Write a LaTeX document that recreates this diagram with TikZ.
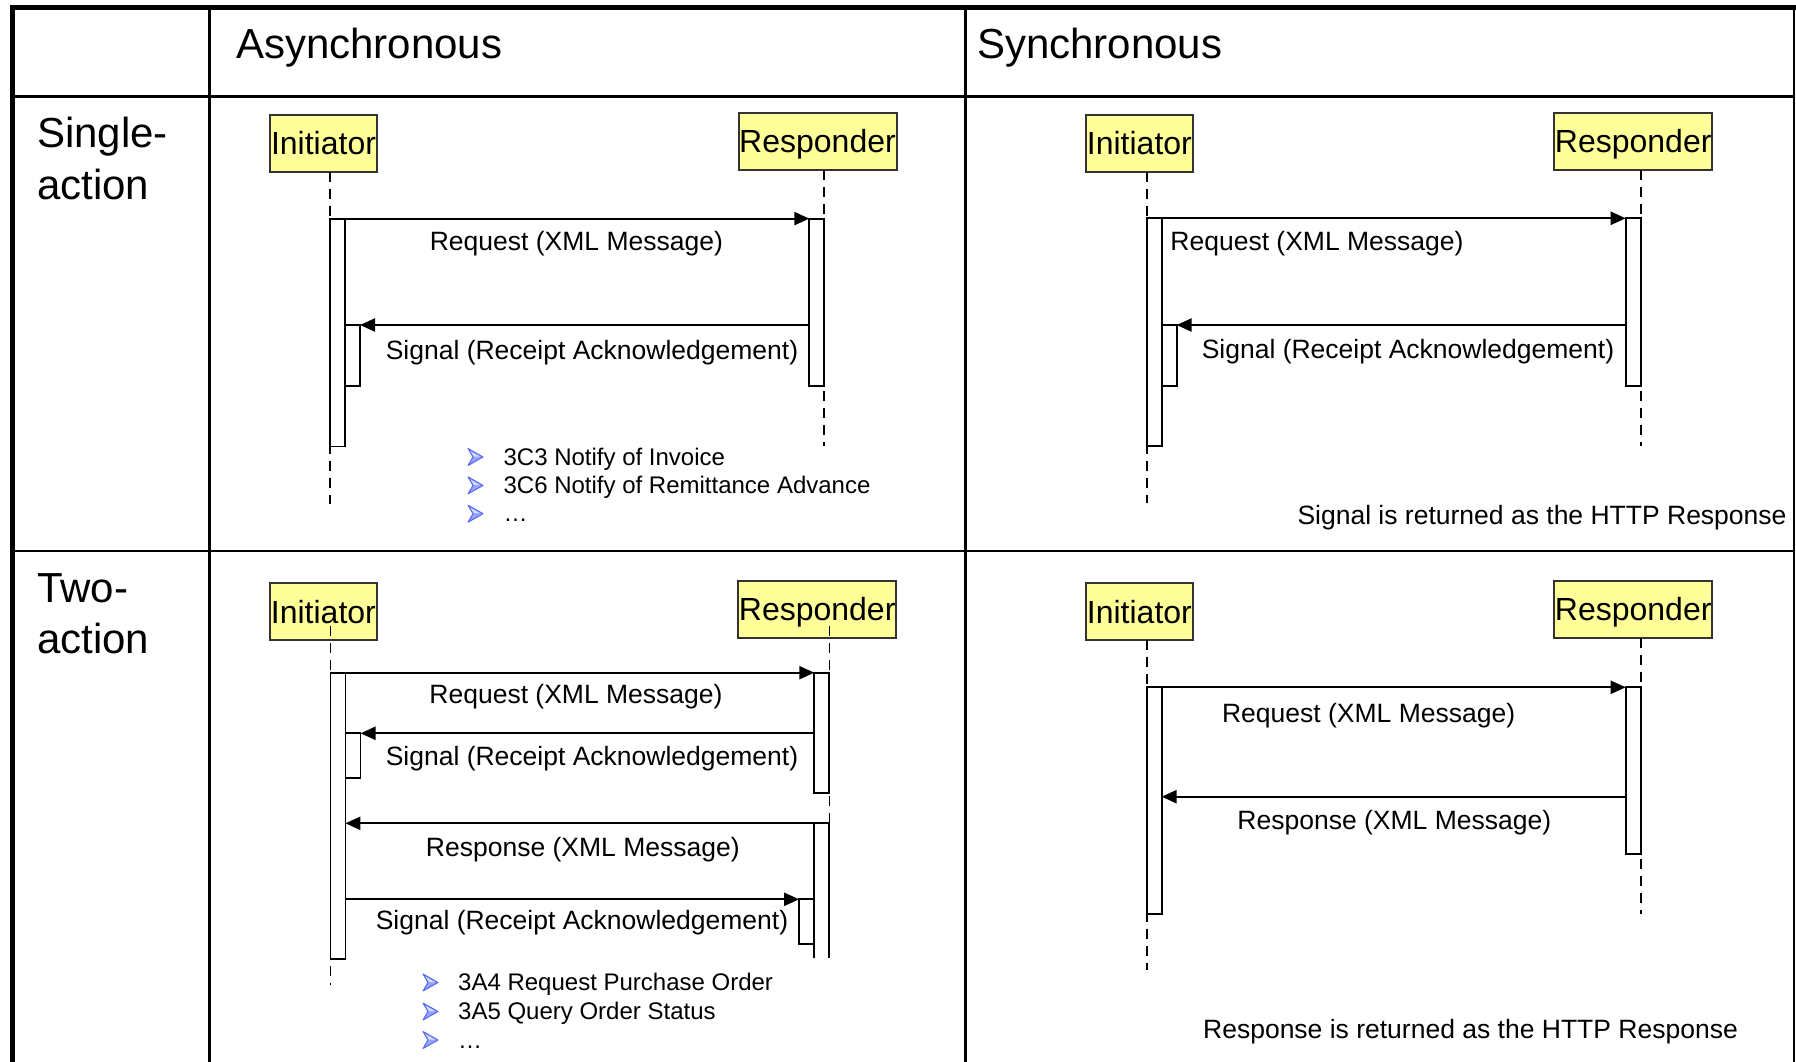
\documentclass[tikz,border=0pt]{standalone}
\usepackage{fontspec}
\setmainfont{Liberation Sans}
\usetikzlibrary{arrows.meta,calc}
\definecolor{actoryellow}{RGB}{255,255,153}
\definecolor{bulletedge}{RGB}{85,105,240}
\definecolor{bulletlight}{RGB}{215,220,255}
\definecolor{bulletmid}{RGB}{150,165,250}
\tikzset{
  frameline/.style={line width=2.5pt, line cap=rect},
  thickframe/.style={line width=5pt, line cap=rect},
  actor/.style={draw=black!80, line width=2pt, fill=actoryellow, inner sep=0pt, outer sep=0pt,
    minimum height=57pt, text height=23pt, text depth=0pt, font=\fontsize{32}{32}\selectfont},
  actI/.style={actor, minimum width=107pt},
  actR/.style={actor, minimum width=158pt},
  actbox/.style={draw, line width=1.8pt, fill=white, inner sep=0pt, outer sep=0pt,
    minimum width=15pt, anchor=north west},
  lifeline/.style={line width=1.8pt, dash pattern=on 10pt off 7pt},
  msg/.style={line width=2.2pt, -{Triangle[length=15pt,width=13pt]}},
  msglabel/.style={font=\fontsize{26.5}{26.5}\selectfont, inner sep=0pt},
  bullettext/.style={font=\fontsize{24}{24}\selectfont, anchor=base west, inner sep=0pt},
  header/.style={font=\fontsize{42}{42}\selectfont, anchor=base west, inner sep=0pt},
}
% bullet arrowhead: #1 = back x, #2 = text baseline
\newcommand\bularrow[2]{%
  \fill[bulletmid] (#1,#2-16.5) -- (#1+15,#2-8) -- (#1,#2+0.5) -- (#1+5,#2-8) -- cycle;
  \fill[bulletlight] (#1+2,#2-14) -- (#1+12,#2-8.5) -- (#1+6,#2-8.5) -- cycle;
  \draw[bulletedge, line width=1pt, line join=round] (#1,#2-16.5) -- (#1+15,#2-8) -- (#1,#2+0.5) -- (#1+5,#2-8) -- cycle;
}
\begin{document}
\begin{tikzpicture}[x=1pt,y=-1pt]
\useasboundingbox (0,0) rectangle (1796,1062);
\fill[white] (0,0) rectangle (1796,1062);

% ---- table frame ----
\draw[frameline] (1794,7.5) -- (1794,1062);
\draw[frameline] (12.5,96.5) -- (1794,96.5);
\draw[frameline] (12.5,551) -- (1794,551);
\draw[frameline] (209.5,7.5) -- (209.5,1062);
\draw[frameline] (965.6,7.5) -- (965.6,1062);
\draw[thickframe] (12.5,1066) -- (12.5,7.5) -- (1796,7.5);

% ---- headers ----
\node[header] (hA) at (236,59) {Asynchronous};
\node[header] (hS) at (977,59) {Synchronous};
\node[header] (r1a) at (37,148) {Single-};
\node[header] (r1b) at (37,199) {action};
\node[header] (r2a) at (37,602) {Two-};
\node[header] (r2b) at (37,653) {action};

% ================= Asynchronous / Single-action =================
\node[actI] (i1) at (323.5,143.4) {Initiator};
\node[actR] (p1) at (817.5,141.4) {Responder};
\coordinate (i1end) at (330,503.6);
\coordinate (p1end) at (824.3,446.4);
\draw[lifeline] (i1.south -| i1end) -- (i1end);
\draw[lifeline] (p1.south -| p1end) -- (p1end);
\node[actbox, minimum height=227.8pt] (a1) at (330,218.6) {};
\node[actbox, minimum height=60.7pt] (n1) at (345,325) {};
\node[actbox, minimum height=167.1pt] (b1) at (809.3,218.6) {};
\draw[msg] (a1.north west) -- (b1.north west);
\draw[msg] (b1.west |- n1.north) -- (n1.north east);
\node[msglabel] (l1a) at (576.4,243.5) {Request (XML Message)};
\node[msglabel] (l1b) at (592,352.5) {Signal (Receipt Acknowledgement)};
\bularrow{468}{465}
\bularrow{468}{493.4}
\bularrow{468}{521.7}
\node[bullettext] (u1a) at (503.4,465) {3C3 Notify of Invoice};
\node[bullettext] (u1b) at (503.4,493.4) {3C6 Notify of Remittance Advance};
\node[bullettext] (u1c) at (503.4,521.7) {…};

% ================= Asynchronous / Two-action =================
\node[actI] (i2) at (323.4,611.7) {Initiator};
\node[actR] (p2) at (817.2,609) {Responder};
\coordinate (i2end) at (330.4,985);
\coordinate (p2end) at (829.5,823.3);
\draw[lifeline] ($(i2.south -| i2end)+(0,-14)$) -- (i2end);
\draw[lifeline] ($(p2.south -| p2end)+(0,-12)$) -- (p2end);
\node[actbox, minimum height=286.6pt] (a2) at (330.4,672.7) {};
\node[actbox, minimum height=45pt] (n2) at (345.5,733.3) {};
\node[actbox, minimum height=120.6pt] (b2) at (814.3,672.7) {};
\node[actbox, draw=none, minimum height=135pt] (c2) at (814.3,823.3) {};
\draw[line width=1.8pt] (c2.south west) -- (c2.north west) -- (c2.north east) -- (c2.south east);
\node[actbox, minimum height=45pt] (m2) at (799.1,899.3) {};
\draw[msg] (a2.north west) -- (b2.north west);
\draw[msg] (b2.west |- n2.north) -- (n2.north east);
\draw[msg] (c2.north west) -- (a2.east |- c2.north);
\draw[msg] (a2.east |- m2.north) -- (m2.north west);
\node[msglabel] (l2a) at (576,697) {Request (XML Message)};
\node[msglabel] (l2b) at (592,758.7) {Signal (Receipt Acknowledgement)};
\node[msglabel] (l2c) at (582.8,849.3) {Response (XML Message)};
\node[msglabel] (l2d) at (582,923) {Signal (Receipt Acknowledgement)};
\bularrow{423}{990.5}
\bularrow{423}{1019.5}
\bularrow{423}{1048}
\node[bullettext] (u2a) at (458,990.5) {3A4 Request Purchase Order};
\node[bullettext] (u2b) at (458,1019.5) {3A5 Query Order Status};
\node[bullettext] (u2c) at (458,1048) {…};

% ================= Synchronous / Single-action =================
\node[actI] (i3) at (1139.4,143.4) {Initiator};
\node[actR] (p3) at (1633.2,141.4) {Responder};
\coordinate (i3end) at (1146.6,503);
\coordinate (p3end) at (1640.7,446);
\draw[lifeline] (i3.south -| i3end) -- (i3end);
\draw[lifeline] (p3.south -| p3end) -- (p3end);
\node[actbox, minimum height=227.7pt] (a3) at (1146.6,218.3) {};
\node[actbox, minimum height=60.7pt] (n3) at (1161.6,325) {};
\node[actbox, minimum height=167.4pt] (b3) at (1625.7,218.3) {};
\draw[msg] (a3.north west) -- (b3.north west);
\draw[msg] (b3.west |- n3.north) -- (n3.north east);
\node[msglabel] (l3a) at (1317,243.7) {Request (XML Message)};
\node[msglabel] (l3b) at (1408,351.3) {Signal (Receipt Acknowledgement)};
\node[msglabel] (f3) at (1542,518) {Signal is returned as the HTTP Response};

% ================= Synchronous / Two-action =================
\node[actI] (i4) at (1139.4,611.7) {Initiator};
\node[actR] (p4) at (1633.2,609.4) {Responder};
\coordinate (i4end) at (1146.6,970);
\coordinate (p4end) at (1640.7,914.3);
\draw[lifeline] (i4.south -| i4end) -- (i4end);
\draw[lifeline] (p4.south -| p4end) -- (p4end);
\node[actbox, minimum height=227pt] (a4) at (1146.6,687.3) {};
\node[actbox, minimum height=166.7pt] (b4) at (1625.7,687.3) {};
\coordinate (resp4) at (1625.7,796.7);
\draw[msg] (a4.north west) -- (b4.north west);
\draw[msg] (resp4) -- (a4.east |- resp4);
\node[msglabel] (l4a) at (1368.6,716) {Request (XML Message)};
\node[msglabel] (l4b) at (1394.3,822.7) {Response (XML Message)};
\node[msglabel] (f4) at (1470.5,1032) {Response is returned as the HTTP Response};
\end{tikzpicture}
\end{document}
